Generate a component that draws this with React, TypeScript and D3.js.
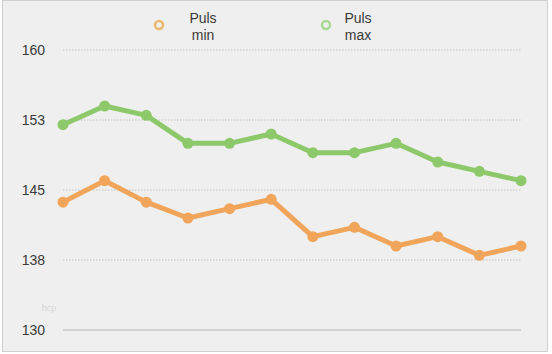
import React from "react";
import * as d3 from "d3";

const points = ["1", "2", "3", "4", "5", "6", "7", "8", "9", "10", "11", "12"];
const pulsMin = [143.7, 146, 143.7, 142, 143, 144, 140, 141, 139, 140, 138, 139];
const pulsMax = [152, 154, 153, 150, 150, 151, 149, 149, 150, 148, 147, 146];
const yTicks = [130, 137.5, 145, 152.5, 160];
const seriesNames = [["Puls", "min"], ["Puls", "max"]];

const W = 552;
const H = 354;
const ORANGE = "#f0a55b";
const GREEN = "#8dc96b";

export default function App() {
  const x = d3.scalePoint<string>().domain(points).range([63, 521]);
  const y = d3.scaleLinear().domain([130, 160]).range([330, 50]);
  const line = d3
    .line<number>()
    .x((_, i) => x(points[i]) as number)
    .y((d) => y(d));

  const series = [
    { values: pulsMin, color: ORANGE, legendColor: "#e9b86c", lx: 159, tx: 203 },
    { values: pulsMax, color: GREEN, legendColor: "#a9d894", lx: 326, tx: 358 },
  ];

  return (
    <svg
      width={W}
      height={H}
      style={{ position: "absolute", left: 0, top: 0, fontFamily: "'Liberation Sans', Arial, sans-serif" }}
    >
      <rect x={2.5} y={0.5} width={545} height={351} fill="#efefef" stroke="#cfcfcf" />
      {yTicks.map((t, i) => (
        <g key={t}>
          <line
            x1={63}
            x2={521}
            y1={y(t)}
            y2={y(t)}
            stroke={i === 0 ? "#b5b5b5" : "#c2c2c2"}
            strokeWidth={1}
            strokeDasharray={i === 0 ? undefined : "1.5,1.5"}
          />
          <text x={45} y={y(t)} dy="0.35em" textAnchor="end" fontSize={14} fill="#3a3a3a">
            {Math.round(t)}
          </text>
        </g>
      ))}
      <text x={49} y={308} dy="0.35em" textAnchor="middle" fontSize={9} fill="#d6d6d6">
        hcp
      </text>
      {series.map((s, si) => (
        <g key={si}>
          <path d={line(s.values) || ""} fill="none" stroke={s.color} strokeWidth={5} strokeLinejoin="round" />
          {s.values.map((v, i) => (
            <circle key={i} cx={x(points[i]) as number} cy={y(v)} r={5.5} fill={s.color} />
          ))}
        </g>
      ))}
      {series.map((s, si) => (
        <g key={"lg" + si}>
          <circle cx={s.lx} cy={25} r={4} fill="none" stroke={s.legendColor} strokeWidth={2.5} />
          <text x={s.tx} y={18} dy="0.35em" textAnchor="middle" fontSize={14} fill="#3a3a3a">
            {seriesNames[si][0]}
          </text>
          <text x={s.tx} y={35} dy="0.35em" textAnchor="middle" fontSize={14} fill="#3a3a3a">
            {seriesNames[si][1]}
          </text>
        </g>
      ))}
    </svg>
  );
}
